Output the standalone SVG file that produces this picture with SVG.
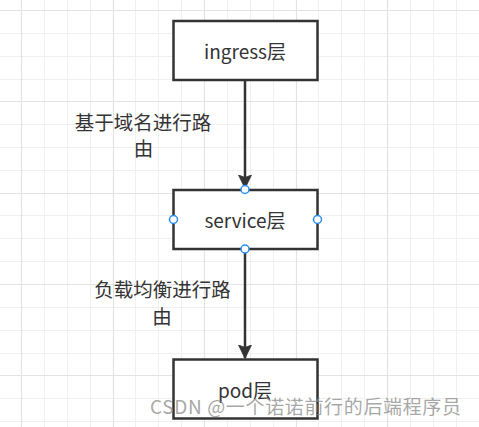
<svg xmlns="http://www.w3.org/2000/svg" width="479" height="427" viewBox="0 0 479 427">
  <style>
    .thin { stroke: #f0f0f0; stroke-width: 1; }
    .thick { stroke: #e3e3e3; stroke-width: 1.2; }
    .box { fill: #ffffff; stroke: #333333; stroke-width: 2.5; }
    .ntext { font-family: "Noto Sans CJK SC", "Noto Sans", sans-serif; font-size: 19px; fill: #333333; text-anchor: middle; }
    .ltext { font-family: "Noto Sans CJK SC", "Noto Sans", sans-serif; font-size: 19.5px; fill: #333333; text-anchor: middle; }
    .edge { stroke: #333333; stroke-width: 2.5; fill: none; }
    .handle { fill: #ffffff; stroke: #2b8cf2; stroke-width: 1.5; }
    .wm { font-family: "Noto Sans CJK SC", "Noto Sans", sans-serif; font-size: 19px; fill: #8a8a8a; fill-opacity: 0.75; }
  </style>
  <defs>
    <marker id="arr" viewBox="0 0 14 14" refX="13" refY="7" markerWidth="14" markerHeight="14" markerUnits="userSpaceOnUse" orient="auto">
      <path d="M0 0.5 L13.5 7 L0 13.5 L2.5 7 Z" fill="#333333" stroke="#333333" stroke-width="0.8"/>
    </marker>
  </defs>
  <rect x="0" y="0" width="479" height="427" fill="#ffffff"/>
  <g id="grid">
    <path class="thin" d="M44.5 0V427M67.5 0V427M90.5 0V427M135.5 0V427M158.5 0V427M181.5 0V427M227.5 0V427M250.5 0V427M273.5 0V427M318.5 0V427M341.5 0V427M364.5 0V427M410.5 0V427M433.5 0V427M456.5 0V427M0 33.5H479M0 56.5H479M0 79.5H479M0 124.5H479M0 147.5H479M0 170.5H479M0 215.5H479M0 238.5H479M0 261.5H479M0 307.5H479M0 330.5H479M0 353.5H479M0 398.5H479M0 421.5H479"/>
    <path class="thick" d="M21.5 0V427M113.5 0V427M204.5 0V427M296.5 0V427M387.5 0V427M0 10.5H479M0 101.5H479M0 193.5H479M0 284.5H479M0 375.5H479"/>
  </g>
  <g id="connectors">
    <line class="edge" x1="245" y1="81" x2="245" y2="188" marker-end="url(#arr)"/>
    <line class="edge" x1="245" y1="250" x2="245" y2="358" marker-end="url(#arr)"/>
    <g id="label1">
      <text class="ltext" x="143" y="129.5">基于域名进行路</text>
      <text class="ltext" x="143.5" y="156">由</text>
    </g>
    <g id="label2">
      <text class="ltext" x="162.5" y="296.5">负载均衡进行路</text>
      <text class="ltext" x="162" y="323.5">由</text>
    </g>
  </g>
  <g id="node-ingress">
    <rect class="box" x="173.5" y="21" width="144" height="59"/>
    <text class="ntext" x="245" y="58.5">ingress层</text>
  </g>
  <g id="node-service">
    <rect class="box" x="173.5" y="190" width="144" height="59"/>
    <text class="ntext" x="245" y="228">service层</text>
    <circle class="handle" cx="245" cy="189.5" r="4"/>
    <circle class="handle" cx="245" cy="249" r="4"/>
    <circle class="handle" cx="173.5" cy="219.5" r="4"/>
    <circle class="handle" cx="317.5" cy="219.5" r="4"/>
  </g>
  <g id="node-pod">
    <rect class="box" x="173.5" y="359.5" width="144" height="59"/>
    <text class="ntext" x="245" y="397.5">pod层</text>
  </g>
  <text class="wm" x="150" y="414" textLength="311" lengthAdjust="spacing">CSDN @一个诺诺前行的后端程序员</text>
</svg>
